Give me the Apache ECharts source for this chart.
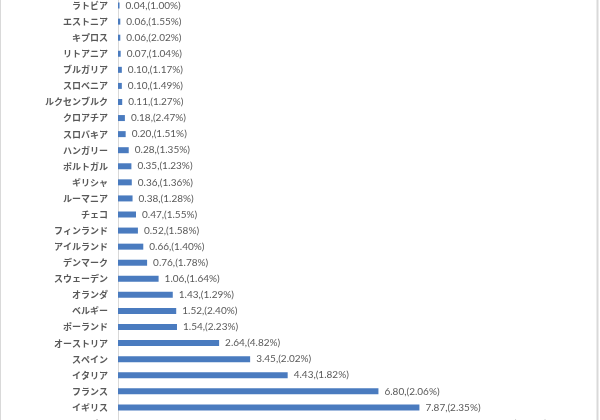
<!DOCTYPE html>
<html>
<head>
<meta charset="utf-8">
<script src="https://cdn.jsdelivr.net/npm/echarts@6/dist/echarts.min.js"></script>
<style>
html,body{margin:0;padding:0;background:#fff;}
#c{width:600px;height:420px;}
</style>
</head>
<body>
<div id="c"></div>
<script>
// top-to-bottom order as shown
const categories = ['ラトビア','エストニア','キプロス','リトアニア','ブルガリア','スロベニア','ルクセンブルク','クロアチア','スロバキア','ハンガリー','ポルトガル','ギリシャ','ルーマニア','チェコ','フィンランド','アイルランド','デンマーク','スウェーデン','オランダ','ベルギー','ポーランド','オーストリア','スペイン','イタリア','フランス','イギリス','ドイツ'];
const values = [0.04,0.06,0.06,0.07,0.10,0.10,0.11,0.18,0.20,0.28,0.35,0.36,0.38,0.47,0.52,0.66,0.76,1.06,1.43,1.52,1.54,2.64,3.45,4.43,6.80,7.87,9.60];
const shares = ['1.00','1.55','2.02','1.04','1.17','1.49','1.27','2.47','1.51','1.35','1.23','1.36','1.28','1.55','1.58','1.40','1.78','1.64','1.29','2.40','2.23','4.82','2.02','1.82','2.06','2.35','2.00'];

const cats = categories.slice().reverse();
const vals = values.slice().reverse();
const shr = shares.slice().reverse();

const chart = echarts.init(document.getElementById('c'), null, {renderer:'canvas'});
chart.setOption({
  animation:false,
  backgroundColor:'#ffffff',
  grid:{left:118, right:99, top:-2.5, bottom:-11.5, outerBoundsMode:'none', containLabel:false},
  xAxis:{type:'value', min:0, max:10, show:false},
  yAxis:{
    type:'category', data:cats,
    axisLine:{show:true, lineStyle:{color:'#d9d9d9', width:1}},
    axisTick:{show:false},
    axisLabel:{color:'#595959', fontSize:9, fontWeight:'bold', fontFamily:'Noto Sans CJK JP', margin:10}
  },
  series:[{
    type:'bar', data:vals, barWidth:6,
    itemStyle:{color:'#4a7bbf'},
    label:{
      show:true, position:'right', distance:6,
      color:'#595959', fontSize:10, fontFamily:'Lato',
      formatter:p=>p.value.toFixed(2)+',('+shr[p.dataIndex]+'%)'
    }
  }],
  graphic:[
    {type:'line', shape:{x1:0.5,y1:0,x2:0.5,y2:420}, style:{stroke:'#d9d9d9', lineWidth:1}},
    {type:'line', shape:{x1:597.5,y1:0,x2:597.5,y2:420}, style:{stroke:'#d9d9d9', lineWidth:2}}
  ]
});
</script>
</body>
</html>
